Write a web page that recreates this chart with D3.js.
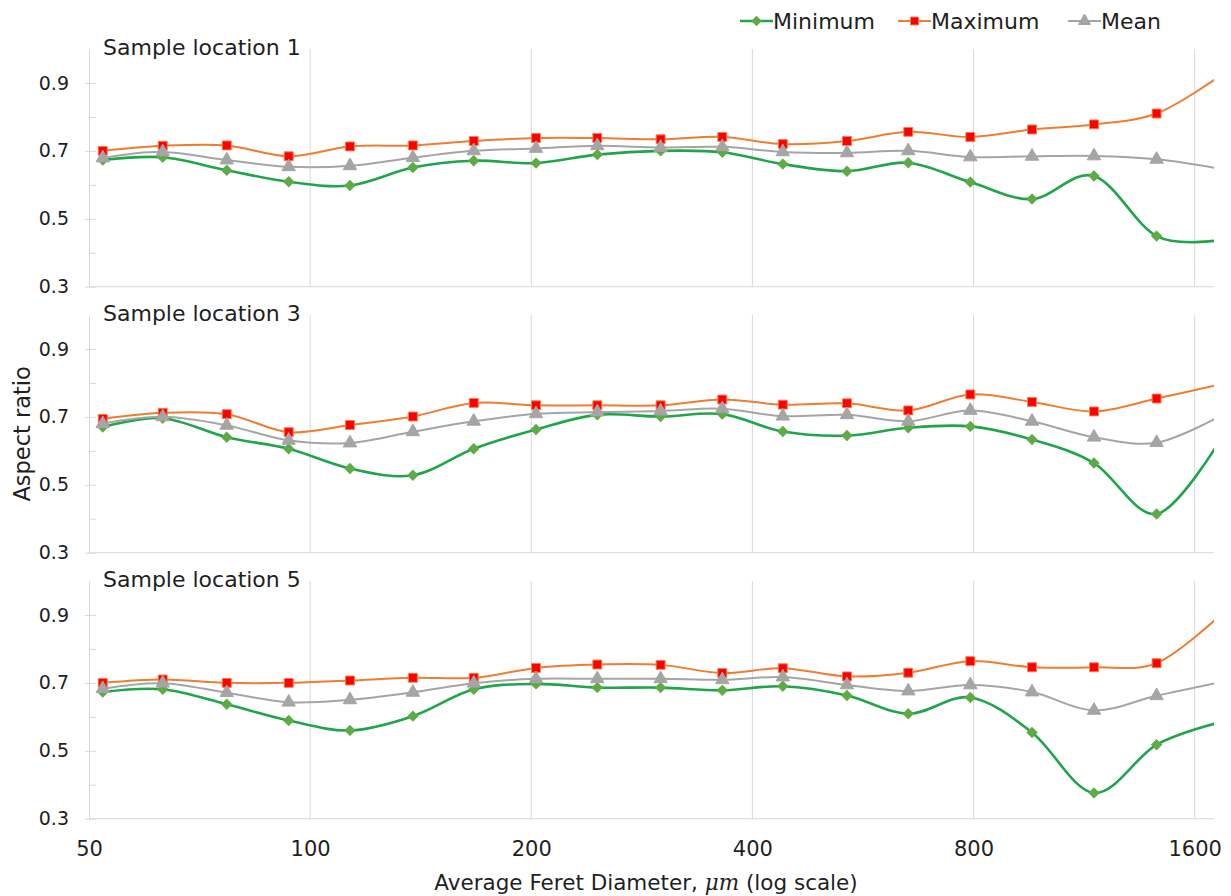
<!DOCTYPE html>
<html>
<head>
<meta charset="utf-8">
<script src="https://cdn.jsdelivr.net/npm/d3@7"></script>
<style>
  body { margin: 0; background: #fff; }
  text { font-family: "DejaVu Sans", Verdana, sans-serif; fill: #1f1f1f; }
</style>
</head>
<body>
<div id="chart"></div>
<script>
// Feret diameter bins (µm); the last bin sits just past the axis end and is clipped
const diameters = [52.2, 63, 77, 93.5, 113.3, 138, 167, 203, 246, 300, 364, 440, 538, 652, 792, 961, 1167, 1420, 1725];

const panelNames = ['Sample location 1', 'Sample location 3', 'Sample location 5'];

const minLoc1  = [0.673, 0.681, 0.643, 0.609, 0.598, 0.651, 0.671, 0.664, 0.689, 0.700, 0.696, 0.661, 0.640, 0.665, 0.608, 0.558, 0.626, 0.449, 0.437];
const maxLoc1  = [0.700, 0.715, 0.716, 0.684, 0.713, 0.716, 0.729, 0.738, 0.738, 0.734, 0.741, 0.720, 0.729, 0.756, 0.741, 0.763, 0.778, 0.810, 0.918];
const meanLoc1 = [0.679, 0.697, 0.673, 0.653, 0.656, 0.680, 0.700, 0.707, 0.715, 0.710, 0.712, 0.697, 0.694, 0.700, 0.682, 0.684, 0.685, 0.675, 0.648];

const minLoc3  = [0.670, 0.696, 0.640, 0.606, 0.548, 0.528, 0.606, 0.663, 0.706, 0.701, 0.708, 0.657, 0.645, 0.668, 0.672, 0.633, 0.564, 0.414, 0.625];
const maxLoc3  = [0.694, 0.712, 0.708, 0.655, 0.676, 0.701, 0.741, 0.734, 0.734, 0.734, 0.751, 0.736, 0.740, 0.719, 0.766, 0.744, 0.716, 0.754, 0.795];
const meanLoc3 = [0.680, 0.700, 0.675, 0.631, 0.623, 0.656, 0.687, 0.709, 0.714, 0.717, 0.724, 0.702, 0.706, 0.687, 0.719, 0.687, 0.640, 0.624, 0.700];

const minLoc5  = [0.673, 0.681, 0.637, 0.589, 0.560, 0.602, 0.681, 0.697, 0.686, 0.686, 0.678, 0.690, 0.663, 0.609, 0.657, 0.554, 0.376, 0.518, 0.583];
const maxLoc5  = [0.700, 0.710, 0.700, 0.700, 0.707, 0.715, 0.715, 0.744, 0.754, 0.753, 0.729, 0.743, 0.719, 0.730, 0.764, 0.746, 0.746, 0.758, 0.895];
const meanLoc5 = [0.683, 0.699, 0.671, 0.643, 0.650, 0.672, 0.699, 0.712, 0.712, 0.712, 0.709, 0.717, 0.694, 0.676, 0.694, 0.673, 0.619, 0.662, 0.701];

const xTicks = [50, 100, 200, 400, 800, 1600];
const yTicks = [0.3, 0.5, 0.7, 0.9];
const yMinorTicks = [0.3, 0.4, 0.5, 0.6, 0.7, 0.8, 0.9];

const panels = [
  { name: panelNames[0], min: minLoc1, max: maxLoc1, mean: meanLoc1 },
  { name: panelNames[1], min: minLoc3, max: maxLoc3, mean: meanLoc3 },
  { name: panelNames[2], min: minLoc5, max: maxLoc5, mean: meanLoc5 }
];

const seriesStyle = [
  { key: 'min',  label: 'Minimum', line: '#1fa64a', fill: '#5eab45', stroke: '#5eab45', width: 2.6, symbol: d3.symbolSquare, rot: 45, size: 50 },
  { key: 'max',  label: 'Maximum', line: '#ed7d31', fill: '#ff0000', stroke: '#f4804a', width: 2, symbol: d3.symbolSquare, rot: 0, size: 80 },
  { key: 'mean', label: 'Mean',    line: '#a5a5a5', fill: '#a5a5a5', stroke: '#a5a5a5', width: 2, symbol: d3.symbolTriangle, rot: 0, size: 78 }
];

const W = 1231, H = 896;
const left = 89, right = 1214;
const panelTop = 49, panelH = 237.7, panelStep = 266;

const svg = d3.select('#chart').append('svg')
  .attr('width', W)
  .attr('height', H);

const x = d3.scaleLog().domain([50, 1700]).range([left, right]);

const grid = '#d9d9d9';

panels.forEach((p, i) => {
  const top = panelTop + i * panelStep;
  const y = d3.scaleLinear().domain([0.3, 1.0]).range([top + panelH, top]);
  const g = svg.append('g');

  // vertical gridlines
  g.selectAll('.vgrid')
    .data(xTicks.slice(1))
    .join('line')
    .attr('x1', d => x(d)).attr('x2', d => x(d))
    .attr('y1', top).attr('y2', top + panelH)
    .attr('stroke', grid).attr('stroke-width', 1);

  // left axis line + inner ticks
  g.append('g')
    .attr('transform', `translate(${x(50)},0)`)
    .call(d3.axisLeft(y).tickValues(yMinorTicks).tickSizeInner(-7).tickSizeOuter(0).tickFormat(''))
    .call(a => a.select('.domain').attr('stroke', grid))
    .call(a => a.selectAll('.tick line').attr('stroke', grid));

  // major tick labels
  g.append('g')
    .attr('transform', `translate(${x(50)},0)`)
    .call(d3.axisLeft(y).tickValues(yTicks).tickSize(4).tickPadding(16).tickFormat(d3.format('.1f')))
    .call(a => a.select('.domain').remove())
    .call(a => a.selectAll('.tick line').attr('stroke', grid))
    .call(a => a.selectAll('.tick text').style('font-size', '19px').attr('fill', '#1f1f1f'));

  // bottom baseline
  g.append('line')
    .attr('x1', x(50)).attr('x2', right)
    .attr('y1', y(0.3)).attr('y2', y(0.3))
    .attr('stroke', grid);

  const clipId = 'clip' + i;
  svg.append('clipPath').attr('id', clipId)
    .append('rect')
    .attr('x', left).attr('y', top - 10)
    .attr('width', right - left).attr('height', panelH + 20);

  const plot = g.append('g').attr('clip-path', `url(#${clipId})`);

  const line = d3.line()
    .x((d, k) => x(diameters[k]))
    .y(d => y(d))
    .curve(d3.curveCardinal.tension(0));

  seriesStyle.forEach(s => {
    plot.append('path')
      .datum(p[s.key])
      .attr('fill', 'none')
      .attr('stroke', s.line)
      .attr('stroke-width', s.width)
      .attr('d', line);
  });

  seriesStyle.forEach(s => {
    plot.selectAll(null)
      .data(p[s.key].map((v, k) => [diameters[k], v]).filter(d => d[0] <= 1700))
      .join('path')
      .attr('transform', d => `translate(${x(d[0])},${y(d[1])}) rotate(${s.rot})`)
      .attr('d', d3.symbol().type(s.symbol).size(s.size))
      .attr('fill', s.fill)
      .attr('stroke', s.stroke)
      .attr('stroke-width', 1);
  });

  // panel title
  g.append('text')
    .attr('x', 103)
    .attr('y', top + 6)
    .style('font-size', '22px')
    .text(p.name);

  // x tick labels on last panel only
  if (i === panels.length - 1) {
    g.append('g')
      .attr('transform', `translate(0,${y(0.3)})`)
      .call(d3.axisBottom(x).tickValues(xTicks).tickSize(0).tickPadding(22).tickFormat(d3.format('d')))
      .call(a => a.select('.domain').remove())
      .call(a => a.selectAll('.tick text').style('font-size', '21px').attr('fill', '#1f1f1f'));
  }
});

// axis titles
const xTitle = svg.append('text')
  .attr('x', 646)
  .attr('y', 890)
  .attr('text-anchor', 'middle')
  .style('font-size', '21.5px');
xTitle.append('tspan').text('Average Feret Diameter, ');
xTitle.append('tspan').style('font-family', '"DejaVu Serif", serif').style('font-style', 'italic').text('μm');
xTitle.append('tspan').text(' (log scale)');

svg.append('text')
  .attr('transform', `translate(30,${panelTop + panelStep + panelH / 2}) rotate(-90)`)
  .attr('text-anchor', 'middle')
  .style('font-size', '22.5px')
  .text('Aspect ratio');

// legend
const legendX = [740, 898, 1068];
seriesStyle.forEach((s, k) => {
  const lg = svg.append('g').attr('transform', `translate(${legendX[k]},21)`);
  lg.append('line')
    .attr('x1', 0).attr('x2', 33)
    .attr('stroke', s.line).attr('stroke-width', s.width);
  lg.append('path')
    .attr('transform', `translate(16.5,0) rotate(${s.rot})`)
    .attr('d', d3.symbol().type(s.symbol).size(s.size * 0.8))
    .attr('fill', s.fill)
    .attr('stroke', s.stroke);
  lg.append('text')
    .attr('x', 33)
    .attr('dy', '0.36em')
    .style('font-size', '22px')
    .text(s.label);
});
</script>
</body>
</html>
